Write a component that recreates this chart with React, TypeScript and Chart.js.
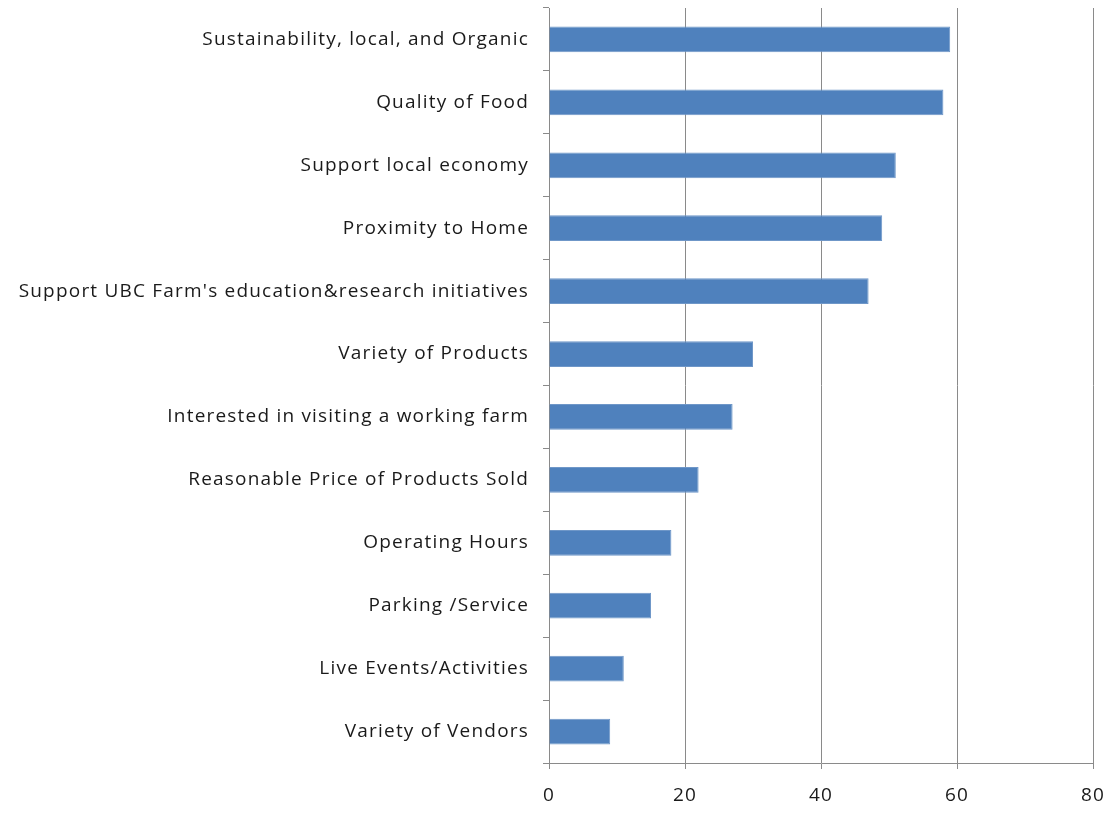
import React, { useEffect, useRef } from "react";
import { Chart, registerables } from "chart.js";

Chart.register(...registerables);

const categories: string[] = [
  "Sustainability, local, and Organic",
  "Quality of Food",
  "Support local economy",
  "Proximity to Home",
  "Support UBC Farm's education&research initiatives",
  "Variety of Products",
  "Interested in visiting a working farm",
  "Reasonable Price of Products Sold",
  "Operating Hours",
  "Parking /Service",
  "Live Events/Activities",
  "Variety of Vendors",
];

const values: number[] = [59, 58, 51, 49, 47, 30, 27, 22, 18, 15, 11, 9];

const xMin = 0;
const xMax = 80;
const xStep = 20;

const FONT = "'Open Sans', 'DejaVu Sans', sans-serif";

const spacingPlugin = {
  id: "letterSpacing",
  beforeDraw(chart: any) {
    try {
      (chart.ctx as any).letterSpacing = "1.2px";
    } catch (e) {}
  },
};

export default function App() {
  const ref = useRef<HTMLCanvasElement | null>(null);

  useEffect(() => {
    if (!ref.current) return;
    const chart = new Chart(ref.current, {
      type: "bar",
      data: {
        labels: categories,
        datasets: [
          {
            data: values,
            backgroundColor: "#4F81BD",
            borderColor: "#6F97C8",
            borderWidth: 1,
            barPercentage: 0.41,
            categoryPercentage: 1,
          },
        ],
      },
      plugins: [spacingPlugin],
      options: {
        indexAxis: "y",
        responsive: false,
        maintainAspectRatio: false,
        animation: false,
        devicePixelRatio: 1,
        layout: { autoPadding: false, padding: { top: 8, right: 20, left: 0, bottom: 0 } },
        plugins: {
          legend: { display: false },
          tooltip: { enabled: false },
        },
        scales: {
          x: {
            type: "linear",
            min: xMin,
            max: xMax,
            ticks: {
              stepSize: xStep,
              color: "#1a1a1a",
              font: { family: FONT, size: 19 },
              padding: 15,
            },
            grid: {
              color: "#8a8a8a",
              lineWidth: 1,
              drawTicks: true,
              tickLength: 6,
            },
            border: { color: "#8a8a8a", width: 1 },
            afterFit: (s: any) => {
              s.height = 50;
              s.paddingLeft = 0;
              s.paddingRight = 0;
              s.paddingTop = 0;
              s.paddingBottom = 0;
            },
          },
          y: {
            type: "category",
            ticks: {
              color: "#1a1a1a",
              font: { family: FONT, size: 19 },
              padding: 14,
              autoSkip: false,
            },
            grid: {
              offset: true,
              drawOnChartArea: false,
              drawTicks: true,
              tickLength: 6,
              color: "#8a8a8a",
            },
            border: { color: "#8a8a8a", width: 1 },
            afterFit: (s: any) => {
              s.width = 549;
              s.paddingLeft = 0;
              s.paddingRight = 0;
              s.paddingTop = 0;
              s.paddingBottom = 0;
            },
          },
        },
      },
    });
    return () => chart.destroy();
  }, []);

  return (
    <div style={{ position: "absolute", left: 0, top: 0, width: 1113, height: 813, background: "#fff" }}>
      <canvas ref={ref} width={1113} height={813} />
    </div>
  );
}
